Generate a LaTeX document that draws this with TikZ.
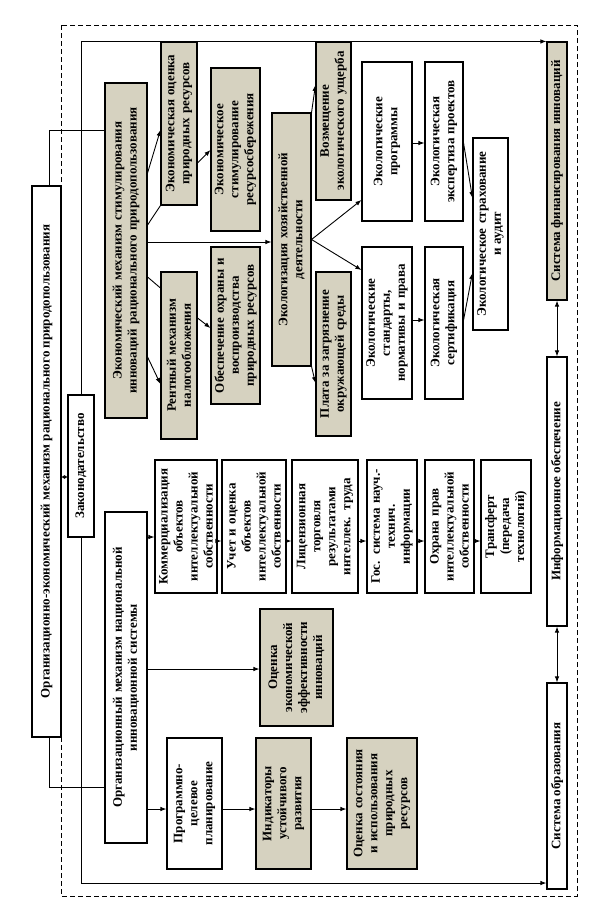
\documentclass[tikz,border=0pt]{standalone}
\usepackage{fontspec}
\setmainfont{Liberation Serif}
\usetikzlibrary{arrows.meta}
\definecolor{khaki}{RGB}{214,210,192}
\begin{document}
\begin{tikzpicture}[x=1pt,y=1pt,
  bx/.style={draw, line width=1.1pt, rotate=90, inner sep=0pt, align=center,
    font=\fontsize{13}{15}\selectfont\bfseries},
  gbx/.style={bx, fill=khaki},
  wbx/.style={bx, fill=white},
  conn/.style={line width=0.9pt},
  arr/.style={conn, -{Latex[length=6pt,width=4.5pt]}},
  darr/.style={conn, {Latex[length=6pt,width=4.5pt]}-{Latex[length=6pt,width=4.5pt]}},
  tinyarr/.style={line width=0.8pt, {Latex[length=3pt,width=4pt]}-{Latex[length=3pt,width=4pt]}},
  frame/.style={line width=0.9pt, dash pattern=on 5pt off 3pt}
]
\useasboundingbox (0,0) rectangle (602,-921);
\fill[white] (0,0) rectangle (602,-921);
\draw[frame] (61,-25) rectangle (577,-896);

% main boxes
\node[wbx, minimum width=551pt, minimum height=29pt] (main) at (46.5,-461.5) {Организационно-экономический механизм рационального природопользования};
\node[wbx, minimum width=142pt, minimum height=26pt] (zak) at (81,-466) {Законодательство};

\node[gbx, minimum width=335pt, minimum height=42pt, text width=329pt] (ekm) at (126,-250.5) {Экономический механизм стимулирования\\ инноваций рационального природопользования};
\node[gbx, minimum width=163pt, minimum height=36pt, text width=159pt] (eko) at (179,-123.5) {Экономическая оценка\\ природных ресурсов};
\node[gbx, minimum width=163pt, minimum height=49pt, text width=157pt] (est) at (235.5,-149.5) {Экономическое\\ стимулирование\\ ресурсосбережения};
\node[gbx, minimum width=167pt, minimum height=36pt, text width=161pt] (rent) at (179,-355.5) {Рентный механизм\\ налогообложения};
\node[gbx, minimum width=157pt, minimum height=49pt, text width=153pt] (obes) at (235.5,-325.5) {Обеспечение охраны и\\ воспроизводства\\ природных ресурсов};
\node[gbx, minimum width=253pt, minimum height=39pt, text width=247pt] (ekz) at (291.5,-239.5) {Экологизация хозяйственной\\ деятельности};
\node[gbx, minimum width=158pt, minimum height=35pt, text width=154pt] (voz) at (333.5,-121) {Возмещение\\ экологического ущерба};
\node[gbx, minimum width=164pt, minimum height=35pt, text width=158pt] (plata) at (333.5,-354) {Плата за загрязнение\\ окружающей среды};
\node[wbx, minimum width=159pt, minimum height=50pt, text width=153pt] (prog) at (387,-141.5) {Экологические\\ программы};
\node[wbx, minimum width=152pt, minimum height=50pt, text width=148pt] (stand) at (387,-323) {Экологические\\ стандарты,\\ нормативы и права};
\node[wbx, minimum width=159pt, minimum height=38pt, text width=155pt] (exp) at (444,-141.5) {Экологическая\\ экспертиза проектов};
\node[wbx, minimum width=152pt, minimum height=38pt, text width=148pt] (sert) at (444,-323) {Экологическая\\ сертификация};
\node[wbx, minimum width=192pt, minimum height=35pt, text width=186pt] (strah) at (490.5,-234) {Экологическое страхование\\ и аудит};

\node[gbx, minimum width=258pt, minimum height=20pt] (fin) at (557,-171) {Система финансирования инноваций};
\node[wbx, minimum width=269pt, minimum height=20pt] (info) at (557,-491.5) {Информационное обеспечение};
\node[wbx, minimum width=206pt, minimum height=20pt] (obr) at (557,-786) {Система образования};

\node[wbx, minimum width=331pt, minimum height=42pt, text width=325pt] (org) at (126,-677.5) {Организационный механизм национальной\\ инновационной системы};
\node[wbx, minimum width=133pt, minimum height=62pt, text width=131pt] (kom) at (186,-526.5) {Коммерциализация\\ объектов\\ интеллектуальной\\ собственности};
\node[wbx, minimum width=133pt, minimum height=64pt, text width=131pt] (uchet) at (254,-526.5) {Учет и оценка\\ объектов\\ интеллектуальной\\ собственности};
\node[wbx, minimum width=133pt, minimum height=66pt, text width=131pt] (lic) at (325,-526.5) {Лицензионная\\ торговля\\ результатами\\ интеллек. труда};
\node[wbx, minimum width=133pt, minimum height=50pt, text width=131pt] (gos) at (392,-526.5) {Гос. система науч.-\\ технич.\\ информации};
\node[wbx, minimum width=133pt, minimum height=49pt, text width=131pt] (ohr) at (449.5,-526.5) {Охрана прав\\ интеллектуальной\\ собственности};
\node[wbx, minimum width=133pt, minimum height=50pt, text width=131pt] (tran) at (506,-526.5) {Трансферт\\ (передача\\ технологий)};
\node[gbx, minimum width=117pt, minimum height=73pt, text width=115pt] (ocef) at (296.5,-667.5) {Оценка\\ экономической\\ эффективности\\ инноваций};
\node[wbx, minimum width=131pt, minimum height=55pt, text width=129pt] (pcp) at (194.5,-803.5) {Программно-\\ целевое\\ планирование};
\node[gbx, minimum width=131pt, minimum height=55pt, text width=129pt] (ind) at (283.5,-803.5) {Индикаторы\\ устойчивого\\ развития};
\node[gbx, minimum width=131pt, minimum height=70pt, text width=129pt] (ocs) at (382,-803.5) {Оценка состояния\\ и использования\\ природных\\ ресурсов};

% connectors
\draw[tinyarr] (main.south |- 0,-477) -- (zak.north |- 0,-477);
\draw[conn] ([xshift=2.5pt]main.east) |- (ekm.north |- 0,-130);
\draw[conn] ([xshift=2.5pt]main.west) |- (org.north |- 0,-787);
\draw[arr] (zak.east) |- (fin.north east);
\draw[arr] (zak.west) |- (obr.north |- 0,-883);
\draw[darr] (fin.west) -- (info.east);
\draw[darr] (info.west) -- (obr.east);

\draw[arr] (ekm.south |- 0,-173) -- (eko.north |- 0,-130);
\draw[conn] (ekm.south |- 0,-225) -- (eko.north west);
\draw[arr] (eko.south |- 0,-163) -- (est.north |- 0,-150);
\draw[arr] (ekm.south |- 0,-242) -- (ekz.north |- 0,-242);
\draw[arr] (ekm.south |- 0,-357) -- (rent.north |- 0,-384);
\draw[conn] (ekm.south |- 0,-277) -- (rent.north |- 0,-288);
\draw[arr] (rent.south |- 0,-318) -- (obes.north |- 0,-328);

\draw[arr] (ekz.south east) -- (voz.north |- 0,-85);
\draw[arr] (ekz.south) -- (prog.north |- 0,-200);
\draw[arr] (ekz.south) -- (stand.north |- 0,-270);
\draw[arr] (ekz.south west) -- (plata.north |- 0,-383);
\draw[arr] (prog.south |- 0,-143) -- (exp.north |- 0,-143);
\draw[arr] (stand.south |- 0,-320) -- (sert.north |- 0,-320);
\draw[arr] (exp.south |- 0,-143) -- (strah.north |- 0,-198);
\draw[arr] (sert.south |- 0,-320) -- (strah.north |- 0,-273);

\draw[arr] (org.south |- 0,-537) -- (kom.north |- 0,-537);
\draw[arr] (kom.south |- 0,-541) -- (uchet.north |- 0,-541);
\draw[arr] (uchet.south |- 0,-541) -- (lic.north |- 0,-541);
\draw[arr] (lic.south |- 0,-541) -- (gos.north |- 0,-541);
\draw[arr] (gos.south |- 0,-541) -- (ohr.north |- 0,-541);
\draw[arr] (ohr.south |- 0,-541) -- (tran.north |- 0,-541);
\draw[arr] (org.south |- 0,-669) -- (ocef.north |- 0,-669);
\draw[arr] (org.south |- 0,-809) -- (pcp.north |- 0,-809);
\draw[arr] (pcp.south |- 0,-809) -- (ind.north |- 0,-809);
\draw[arr] (ind.south |- 0,-809) -- (ocs.north |- 0,-809);
\end{tikzpicture}
\end{document}
